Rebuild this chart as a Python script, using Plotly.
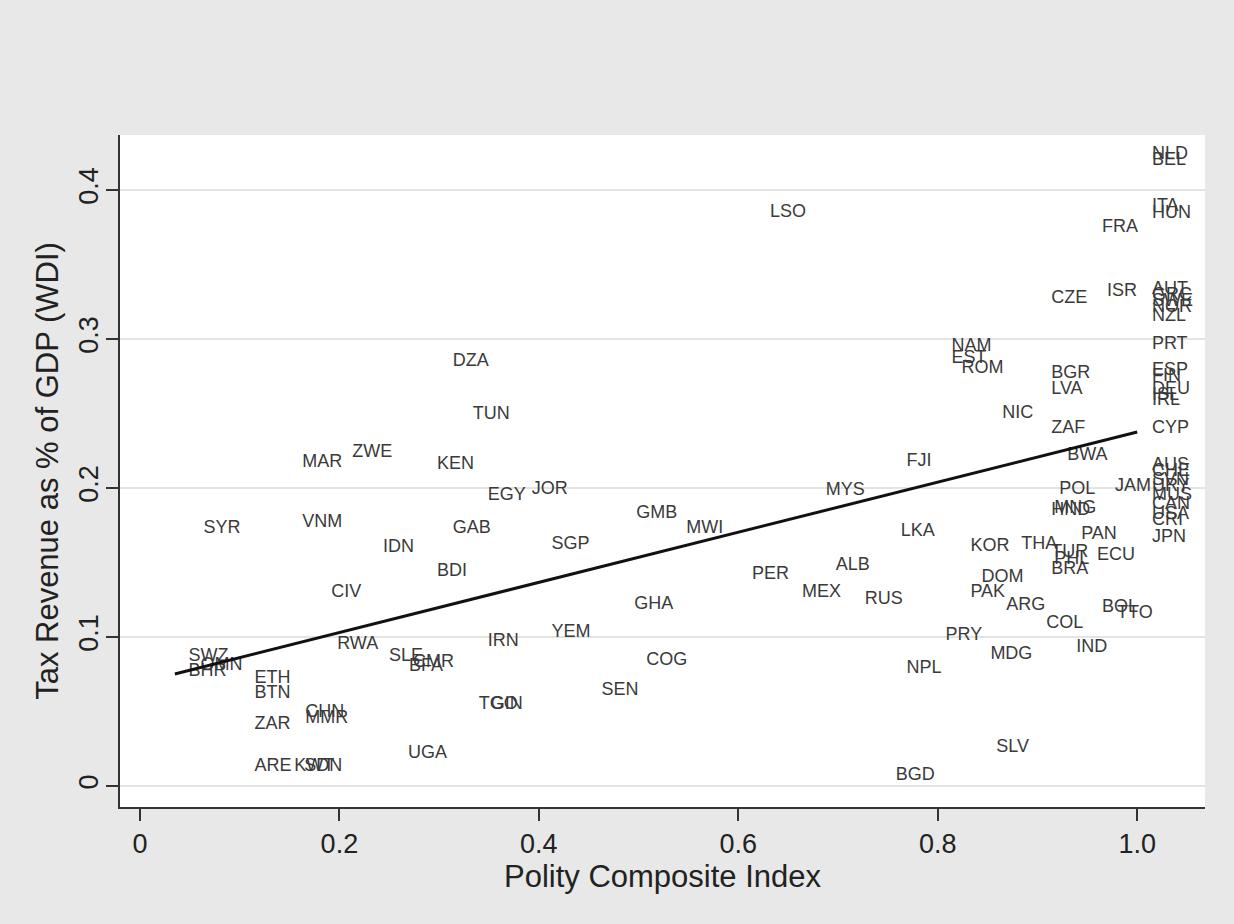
import plotly.graph_objects as go

# Country codes, Polity composite index (0-1) and tax revenue share of GDP (WDI)
countries = [
    "NLD", "BEL", "ITA", "HUN", "FRA", "LSO", "ISR", "CZE",
    "AUT", "GRC", "SWE", "NOR", "NZL", "PRT", "ESP", "FIN", "DEU", "ISL", "IRL", "CYP",
    "NAM", "EST", "ROM", "BGR", "LVA", "NIC", "ZAF", "BWA",
    "AUS", "CHE", "SVN", "URY", "MUS", "CAN", "USA", "CRI", "JPN",
    "JAM", "POL", "HND", "MNG", "PAN", "THA", "KOR", "TUR", "PHL", "BRA", "ECU",
    "DOM", "PAK", "ARG", "BOL", "TTO", "COL", "PRY", "IND", "MDG", "NPL", "SLV", "BGD",
    "FJI", "LKA", "MYS", "ALB", "MEX", "RUS", "PER", "MWI", "GMB", "GHA", "COG", "SEN",
    "SGP", "JOR", "EGY", "YEM", "IRN", "TGO", "GIN", "UGA", "TUN", "DZA", "KEN", "GAB",
    "BDI", "SLE", "CMR", "BFA", "RWA", "IDN", "CIV", "ZWE", "MAR", "VNM", "SYR",
    "SWZ", "BHR", "OMN", "ETH", "BTN", "ZAR", "CHN", "MMR", "ARE", "KWT", "SDN",
]
polity = [
    1.000, 1.000, 1.000, 1.000, 0.950, 0.617, 0.955, 0.899,
    1.000, 1.000, 1.000, 1.000, 1.000, 1.000, 1.000, 1.000, 1.000, 1.000, 1.000, 1.000,
    0.799, 0.799, 0.809, 0.899, 0.899, 0.850, 0.899, 0.915,
    1.000, 1.000, 1.000, 1.000, 1.000, 1.000, 1.000, 1.000, 1.000,
    0.963, 0.907, 0.899, 0.902, 0.929, 0.869, 0.818, 0.899, 0.902, 0.899, 0.945,
    0.829, 0.818, 0.854, 0.950, 0.965, 0.894, 0.793, 0.924, 0.838, 0.754, 0.844, 0.743,
    0.754, 0.748, 0.673, 0.683, 0.649, 0.712, 0.599, 0.533, 0.483, 0.481, 0.493, 0.448,
    0.398, 0.378, 0.334, 0.398, 0.334, 0.325, 0.337, 0.254, 0.319, 0.299, 0.283, 0.299,
    0.283, 0.235, 0.259, 0.255, 0.183, 0.229, 0.177, 0.198, 0.148, 0.148, 0.049,
    0.034, 0.034, 0.046, 0.100, 0.100, 0.100, 0.151, 0.151, 0.100, 0.140, 0.150,
]
tax_gdp = [
    0.424, 0.420, 0.389, 0.384, 0.375, 0.385, 0.332, 0.327,
    0.333, 0.329, 0.325, 0.321, 0.315, 0.296, 0.279, 0.275, 0.266, 0.262, 0.259, 0.240,
    0.295, 0.287, 0.280, 0.277, 0.266, 0.250, 0.240, 0.222,
    0.215, 0.211, 0.205, 0.201, 0.195, 0.189, 0.182, 0.178, 0.167,
    0.201, 0.199, 0.185, 0.186, 0.169, 0.162, 0.161, 0.157, 0.152, 0.145, 0.155,
    0.140, 0.130, 0.121, 0.120, 0.116, 0.109, 0.101, 0.093, 0.088, 0.079, 0.026, 0.007,
    0.218, 0.171, 0.198, 0.148, 0.130, 0.125, 0.142, 0.173, 0.183, 0.122, 0.084, 0.064,
    0.162, 0.199, 0.195, 0.103, 0.097, 0.055, 0.055, 0.022, 0.249, 0.285, 0.216, 0.173,
    0.144, 0.087, 0.083, 0.080, 0.095, 0.160, 0.130, 0.224, 0.217, 0.177, 0.173,
    0.087, 0.077, 0.081, 0.072, 0.062, 0.041, 0.049, 0.045, 0.013, 0.013, 0.013,
]

# Linear fit of tax share on polity score, evaluated at the sample's x extremes
fit_x = [0.035, 1.0]
fit_y = [0.0752, 0.2376]

x_ticks = [0, 0.2, 0.4, 0.6, 0.8, 1.0]
x_tick_text = ["0", "0.2", "0.4", "0.6", "0.8", "1.0"]
y_ticks = [0, 0.1, 0.2, 0.3, 0.4]
y_tick_text = ["0", "0.1", "0.2", "0.3", "0.4"]

FONT = "Liberation Sans, Arial, sans-serif"

fig = go.Figure()

fig.add_trace(go.Scatter(
    x=polity, y=tax_gdp, text=countries,
    mode="markers+text",
    textposition="middle right",
    marker=dict(size=22, opacity=0),
    textfont=dict(family=FONT, size=18, color="#3a3a3a"),
    hoverinfo="text",
    showlegend=False,
))

fig.add_trace(go.Scatter(
    x=fit_x, y=fit_y, mode="lines",
    line=dict(color="#111111", width=3),
    hoverinfo="skip", showlegend=False,
))

fig.update_layout(
    width=1234, height=924,
    paper_bgcolor="#e8e8e8",
    plot_bgcolor="#ffffff",
    margin=dict(l=120, r=29, t=135, b=117),
    font=dict(family=FONT, color="#222222"),
    xaxis=dict(
        range=[-0.02, 1.068],
        tickvals=x_ticks, ticktext=x_tick_text,
        tickfont=dict(size=27, color="#222222"),
        ticks="outside", ticklen=12, tickwidth=1.5, tickcolor="#333333",
        showline=True, linecolor="#333333", linewidth=2,
        showgrid=False, zeroline=False,
        title=dict(text="Polity Composite Index", font=dict(size=31, color="#222222"), standoff=4),
    ),
    yaxis=dict(
        range=[-0.0141, 0.4369],
        tickvals=y_ticks, ticktext=y_tick_text,
        tickangle=-90,
        tickfont=dict(size=27, color="#222222"),
        ticks="outside", ticklen=12, tickwidth=1.5, tickcolor="#333333",
        ticklabelstandoff=-3,
        showline=True, linecolor="#333333", linewidth=2,
        showgrid=True, gridcolor="#e4e4e4", gridwidth=2,
        zeroline=False,
        title=dict(text="Tax Revenue as % of GDP (WDI)", font=dict(size=31, color="#222222"), standoff=6),
    ),
)

fig.write_html("out.html")
